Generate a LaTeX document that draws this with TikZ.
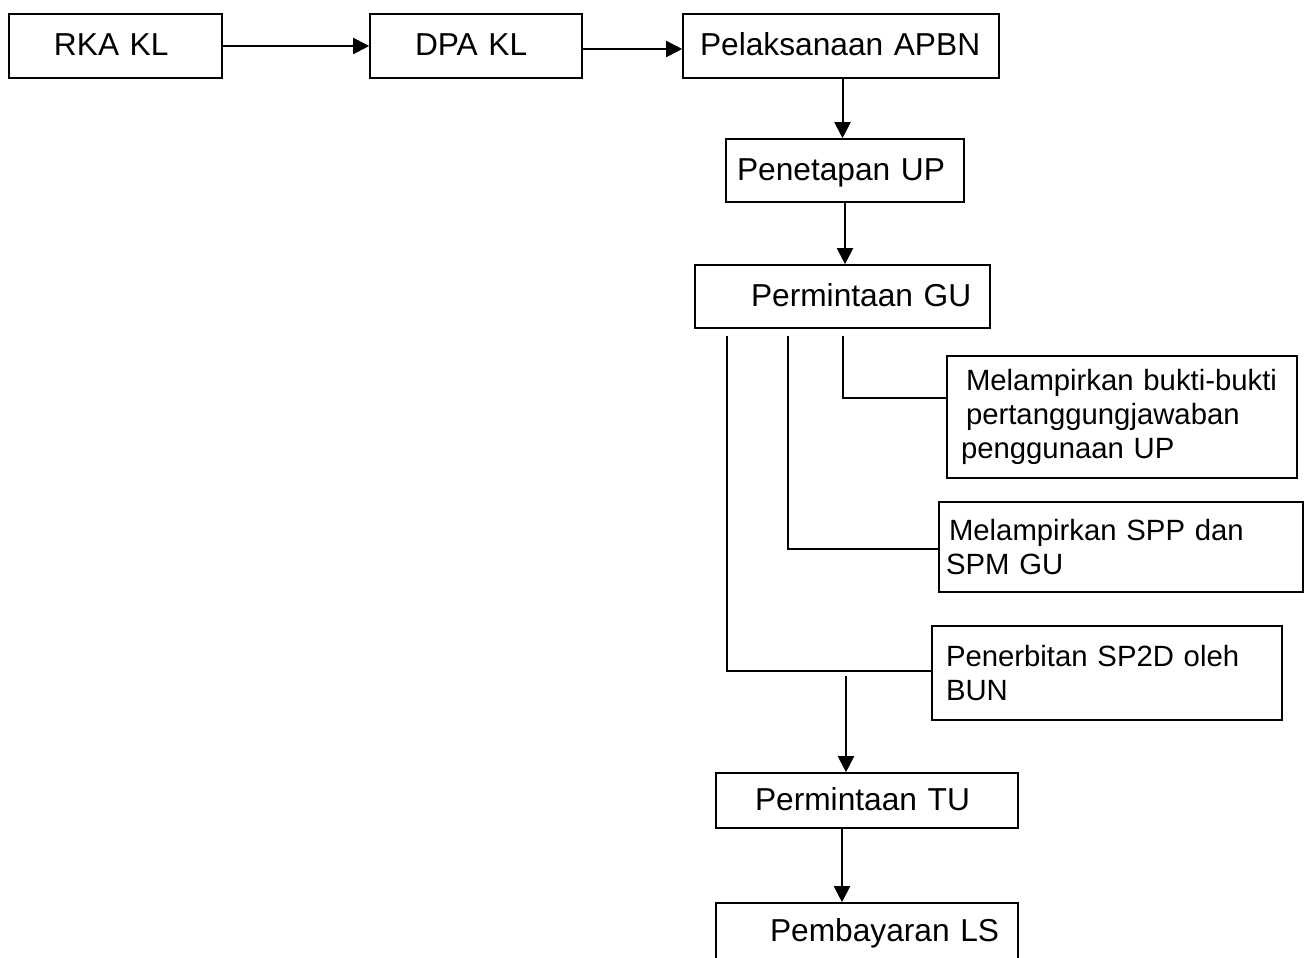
\documentclass[tikz,border=0pt]{standalone}
\usepackage{fontspec}
\setmainfont{Liberation Sans}
\usetikzlibrary{arrows.meta}
\newcommand\mainsize{\fontsize{31.7}{36}\selectfont}
\newcommand\sidesize{\fontsize{29.3}{34}\selectfont}
\begin{document}
\begin{tikzpicture}[x=1pt,y=-1pt,
  box/.style={draw,line width=1.6pt,inner sep=0pt,align=left},
  mainbox/.style={box,font=\mainsize,text height=24pt,text depth=4pt},
  sidebox/.style={box,font=\sidesize},
  arr/.style={line width=2pt,-{Triangle[length=16pt,width=16pt]}},
  branch/.style={line width=1.4pt}]
\useasboundingbox (0,0) rectangle (1310,958);
\clip (0,0) rectangle (1310,958);

% main chain
\node[mainbox,minimum width=213pt,minimum height=64pt,text width=213pt] (rka) at (115.5,46) {\hspace*{45pt}RKA KL};
\node[mainbox,minimum width=212pt,minimum height=64pt,text width=212pt] (dpa) at (476,46) {\hspace*{45pt}DPA KL};
\node[mainbox,minimum width=316pt,minimum height=64pt,text width=316pt] (pel) at (841,46) {\hspace*{17pt}Pelaksanaan APBN};
\node[mainbox,minimum width=238pt,minimum height=63pt,text width=238pt] (pen) at (845,170.5) {\hspace*{11pt}Penetapan UP};
\node[mainbox,minimum width=295pt,minimum height=63pt,text width=295pt] (gu) at (842.5,296.5) {\hspace*{56pt}Permintaan GU};
\node[mainbox,minimum width=302pt,minimum height=55pt,text width=302pt] (tu) at (867,800.5) {\hspace*{39pt}Permintaan TU};
\node[mainbox,minimum width=302pt,minimum height=56pt,text width=302pt] (ls) at (867,931) {\hspace*{54pt}Pembayaran LS};

% side notes of the GU request
\node[sidebox,minimum width=350pt,minimum height=122pt,text width=350pt] (bukti) at (1122,417)
  {\hspace*{19pt}Melampirkan bukti-bukti\\\hspace*{19pt}pertanggungjawaban\\\hspace*{14pt}penggunaan UP};
\node[sidebox,minimum width=364pt,minimum height=90pt,text width=364pt] (spp) at (1121,547)
  {\hspace*{10pt}Melampirkan SPP dan\\\hspace*{7pt}SPM GU};
\node[sidebox,minimum width=350pt,minimum height=94pt,text width=350pt] (sp2d) at (1107,673)
  {\hspace*{14pt}Penerbitan SP2D oleh\\\hspace*{14pt}BUN};

% arrows
\draw[arr] (rka.east) -- (dpa.west);
\draw[arr] ([yshift=-3pt]dpa.east) -- ([yshift=-3pt]pel.west);
\draw[arr] ([xshift=1.5pt]pel.south) -- ([xshift=1.5pt]pel.south |- pen.north);
\draw[arr] (pen.south) -- (pen.south |- gu.north);

% branches below the GU request
\coordinate (g1) at (727,336);
\coordinate (g2) at (788,336);
\coordinate (g3) at (843,336);
\draw[branch] (g3) |- ([yshift=19pt]bukti.west);
\draw[branch] (g2) |- ([yshift=-2pt]spp.west);
\draw[branch] (g1) |- ([yshift=2pt]sp2d.west);

\coordinate (j) at (846,676);
\draw[arr] (j) -- (j |- tu.north);
\draw[arr] ([xshift=-25pt]tu.south) -- ([xshift=-25pt]tu.south |- ls.north);
\end{tikzpicture}
\end{document}
